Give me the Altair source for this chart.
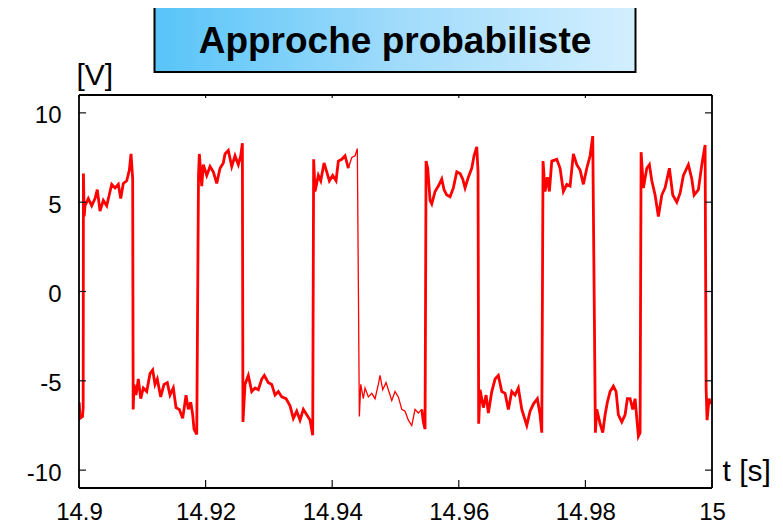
import altair as alt
import pandas as pd

# time in ms after 14.9 s, voltage in V
t_ms = [
    0.03, 0.16, 0.55, 0.66,
    0.70, 0.82, 0.95, 1.47, 2.01, 2.53, 2.89, 3.32, 3.84, 4.38, 4.90, 5.17, 5.69, 6.21, 6.59, 7.00, 7.54, 7.95, 8.22, 8.48,
    8.56, 8.69, 9.01, 9.37, 9.75, 10.16, 10.70, 11.22, 11.64, 12.01, 12.37, 12.91, 13.43, 13.95, 14.38, 14.90, 15.33, 15.85, 16.38, 16.91, 17.27, 17.65, 17.96, 18.17, 18.60,
    18.88, 19.01, 19.39, 19.64, 20.18, 20.70, 21.22, 21.76, 22.28, 22.80, 23.07, 23.59, 24.13, 24.65, 25.17, 25.55, 25.81,
    25.90, 26.23, 26.75, 27.29, 27.81, 28.33, 28.87, 29.28, 29.91, 30.45, 30.97, 31.49, 32.03, 32.71, 33.34, 33.86, 34.40, 34.92, 35.44, 35.98, 36.50, 36.92,
    37.07, 37.29, 37.81, 38.19, 38.71, 39.14, 39.55, 40.08, 40.61, 40.97, 41.51, 42.03, 42.55, 43.09, 43.61, 43.97,
    44.29, 44.51, 44.92, 45.19, 45.71, 46.25, 46.77, 47.29, 47.56, 47.98, 48.51, 48.87, 49.41, 49.93, 50.45, 50.99, 51.51, 52.03, 52.57, 53.09, 53.61, 54.15, 54.40, 54.67,
    54.83, 55.09, 55.46, 55.73, 56.25, 56.77, 57.31, 57.67, 58.10, 58.62, 59.14, 59.68, 60.20, 60.62, 60.99, 61.51, 62.05, 62.41, 62.84, 63.04,
    63.14, 63.36, 63.88, 64.31, 64.67, 65.21, 65.73, 66.25, 66.79, 67.31, 67.83, 68.37, 68.89, 69.41, 69.95, 70.74, 71.26, 71.78, 72.41, 72.84, 73.11,
    73.31, 73.63, 73.99, 74.31, 74.69, 75.48, 76.00, 76.52, 77.06, 77.58, 78.10, 78.64, 79.16, 79.68, 80.22, 80.74, 81.16,
    81.58, 81.80, 82.32, 82.74, 83.11, 83.47, 83.90, 84.42, 84.85, 85.21, 85.75, 86.27, 86.63, 87.06, 87.48, 87.85, 88.12, 88.37, 88.64,
    88.80, 89.16, 89.70, 90.11, 90.49, 91.01, 91.53, 92.07, 92.59, 93.27, 93.80, 94.44, 94.96, 95.48, 96.27, 96.81, 97.17, 97.85, 98.39, 98.91,
    99.07, 99.22, 99.54, 99.86,
]
volts = [
    -6.2, -7.1, -7.0, -6.5,
    6.6, 4.2, 4.8, 5.2, 4.8, 5.2, 5.7, 4.5, 5.1, 4.8, 5.6, 6.0, 5.8, 6.0, 5.2, 6.05, 6.2, 6.8, 7.7, 6.3,
    -6.6, -5.2, -5.8, -4.9, -6.0, -5.4, -5.6, -4.6, -4.4, -5.2, -4.9, -5.9, -5.2, -5.1, -5.8, -5.4, -6.5, -6.6, -7.1, -5.8, -6.6, -6.2, -6.9, -7.7, -8.0,
    6.5, 7.7, 5.9, 7.1, 6.5, 7.0, 6.7, 6.05, 6.9, 7.2, 7.7, 7.9, 7.0, 7.6, 7.1, 7.6, 8.3,
    -7.3, -5.2, -4.7, -5.6, -5.4, -5.5, -4.9, -4.7, -5.1, -5.2, -5.8, -5.6, -5.9, -6.0, -6.4, -7.1, -6.7, -7.2, -6.6, -6.9, -7.2, -8.05,
    7.4, 5.6, 6.5, 6.2, 7.2, 6.7, 6.2, 6.5, 6.2, 7.3, 7.4, 7.6, 6.9, 7.5, 7.6, 8.0,
    -7.0, -5.2, -6.0, -5.4, -5.9, -5.7, -6.0, -5.2, -4.7, -5.5, -5.1, -5.5, -6.1, -5.6, -5.9, -6.6, -6.7, -7.2, -7.5, -6.6, -6.8, -6.6, -7.3, -7.7,
    7.3, 6.9, 5.1, 4.9, 5.6, 5.9, 6.3, 5.7, 5.4, 5.3, 5.8, 6.7, 6.6, 6.3, 5.8, 6.4, 6.9, 7.6, 8.1, 6.7,
    -7.4, -5.5, -6.5, -5.8, -6.8, -5.6, -4.9, -4.7, -5.6, -5.7, -6.6, -5.6, -5.8, -5.4, -6.6, -7.5, -6.7, -6.3, -6.0, -6.9, -7.9,
    7.3, 5.6, 6.4, 5.6, 7.3, 7.4, 6.9, 5.6, 6.0, 5.9, 7.7, 7.1, 6.8, 6.0, 6.9, 7.6, 8.7,
    -7.9, -6.6, -7.4, -7.9, -6.9, -6.2, -5.6, -5.3, -5.6, -6.9, -7.3, -6.9, -6.0, -6.0, -6.6, -6.0, -7.1, -8.1, -7.9,
    7.8, 5.8, 6.9, 7.1, 6.2, 5.4, 4.2, 5.4, 5.8, 6.9, 5.4, 5.0, 5.5, 6.5, 7.1, 6.3, 5.4, 5.7, 7.1, 8.2,
    -5.4, -7.2, -6.0, -6.3,
]
THIN_FROM_MS = 42.55
THIN_TO_MS = 54.15

X_TICKS = [14.9, 14.92, 14.94, 14.96, 14.98, 15.0]
Y_TICKS = [-10, -5, 0, 5, 10]
TITLE = "Approche probabiliste"
Y_LABEL = "[V]"
X_LABEL = "t [s]"

FONT = "Liberation Sans"
W, H = 633, 393

df = pd.DataFrame({"ms": t_ms, "v": volts})
df["t"] = 14.9 + df["ms"] / 1000.0
thin = df[(df["ms"] >= THIN_FROM_MS) & (df["ms"] <= THIN_TO_MS)].copy()
thick = df[(df["ms"] <= THIN_FROM_MS) | (df["ms"] >= THIN_TO_MS)].copy()
thick["part"] = (thick["ms"] >= THIN_TO_MS).astype(int)

xscale = alt.Scale(domain=[14.9, 15.0], nice=False, zero=False)
yscale = alt.Scale(domain=[-11, 11], nice=False, zero=False)

xaxis = alt.Axis(values=X_TICKS, format=".2~f", title=None, grid=False, domain=False,
                 ticks=False, tickSize=0, labelFont=FONT, labelFontSize=24, labelColor="black",
                 labelPadding=12, labelFlush=False, labelOverlap=False)
yaxis = alt.Axis(values=Y_TICKS, labelExpr="datum.value + ''", title=None, grid=False,
                 domain=False, ticks=False, tickSize=0, labelFont=FONT, labelFontSize=24,
                 labelColor="black", labelPadding=18, labelOffset=3, labelFlush=False,
                 labelOverlap=False)

thick_line = alt.Chart(thick).mark_line(color="#FF0000", strokeWidth=2.8, clip=True).encode(
    x=alt.X("t:Q", scale=xscale, axis=xaxis),
    y=alt.Y("v:Q", scale=yscale, axis=yaxis),
    detail="part:N",
    order="ms:Q",
)
thin_line = alt.Chart(thin).mark_line(color="#FF0000", strokeWidth=1.3, clip=True).encode(
    x=alt.X("t:Q", scale=xscale),
    y=alt.Y("v:Q", scale=yscale),
    order="ms:Q",
)

ydf = pd.DataFrame({"v": Y_TICKS})
xdf = pd.DataFrame({"t": X_TICKS})
tick_color = "#111111"
left_ticks = alt.Chart(ydf).mark_rule(color=tick_color, strokeWidth=1.2).encode(
    y=alt.Y("v:Q", scale=yscale), x=alt.value(0), x2=alt.value(7))
right_ticks = alt.Chart(ydf).mark_rule(color=tick_color, strokeWidth=1.2).encode(
    y=alt.Y("v:Q", scale=yscale), x=alt.value(W - 7), x2=alt.value(W))
bottom_ticks = alt.Chart(xdf).mark_rule(color=tick_color, strokeWidth=1.2).encode(
    x=alt.X("t:Q", scale=xscale), y=alt.value(H - 8), y2=alt.value(H))
top_ticks = alt.Chart(xdf).mark_rule(color=tick_color, strokeWidth=1.2).encode(
    x=alt.X("t:Q", scale=xscale), y=alt.value(0), y2=alt.value(3))

one = pd.DataFrame({"label": [TITLE]})
edge = dict(color="#000000", strokeWidth=1.8)
frame_top = alt.Chart(one).mark_rule(**edge).encode(
    x=alt.value(0), x2=alt.value(W), y=alt.value(0))
frame_bottom = alt.Chart(one).mark_rule(**edge).encode(
    x=alt.value(0), x2=alt.value(W), y=alt.value(H))
frame_left = alt.Chart(one).mark_rule(**edge).encode(
    x=alt.value(0), y=alt.value(0), y2=alt.value(H))
frame_right = alt.Chart(one).mark_rule(**edge).encode(
    x=alt.value(W), y=alt.value(0), y2=alt.value(H))

title_box = alt.Chart(one).mark_rect(
    fill=alt.LinearGradient(
        gradient="linear",
        stops=[alt.GradientStop(color="#58C4F8", offset=0),
               alt.GradientStop(color="#9FDBFB", offset=0.5),
               alt.GradientStop(color="#D3EFFE", offset=1)],
        x1=0, x2=1, y1=0, y2=0),
    stroke="black", strokeWidth=2,
).encode(x=alt.value(75.5), x2=alt.value(556.5), y=alt.value(-89), y2=alt.value(-23))
title_text = alt.Chart(one).mark_text(
    font=FONT, fontSize=37, fontWeight="bold", color="black", align="center", baseline="alphabetic"
).encode(text="label:N", x=alt.value(316), y=alt.value(-42))

ylab = alt.Chart(pd.DataFrame({"label": [Y_LABEL]})).mark_text(
    font=FONT, fontSize=30, color="black", align="left", baseline="alphabetic"
).encode(text="label:N", x=alt.value(-2.5), y=alt.value(-10.5))
xlab = alt.Chart(pd.DataFrame({"label": [X_LABEL]})).mark_text(
    font=FONT, fontSize=30, color="black", align="left", baseline="alphabetic"
).encode(text="label:N", x=alt.value(643.5), y=alt.value(385.5))

chart = alt.layer(
    thick_line, thin_line, left_ticks, right_ticks, bottom_ticks, top_ticks,
    frame_top, frame_bottom, frame_left, frame_right,
    title_box, title_text, ylab, xlab,
).properties(
    width=W, height=H,
    autosize=alt.AutoSizeParams(type="none"),
    padding={"left": 71, "top": 87, "right": 63, "bottom": 40},
    background="white",
).configure_view(
    strokeWidth=0
)

chart.save("out.html", embed_options={"renderer": "svg", "actions": False})
